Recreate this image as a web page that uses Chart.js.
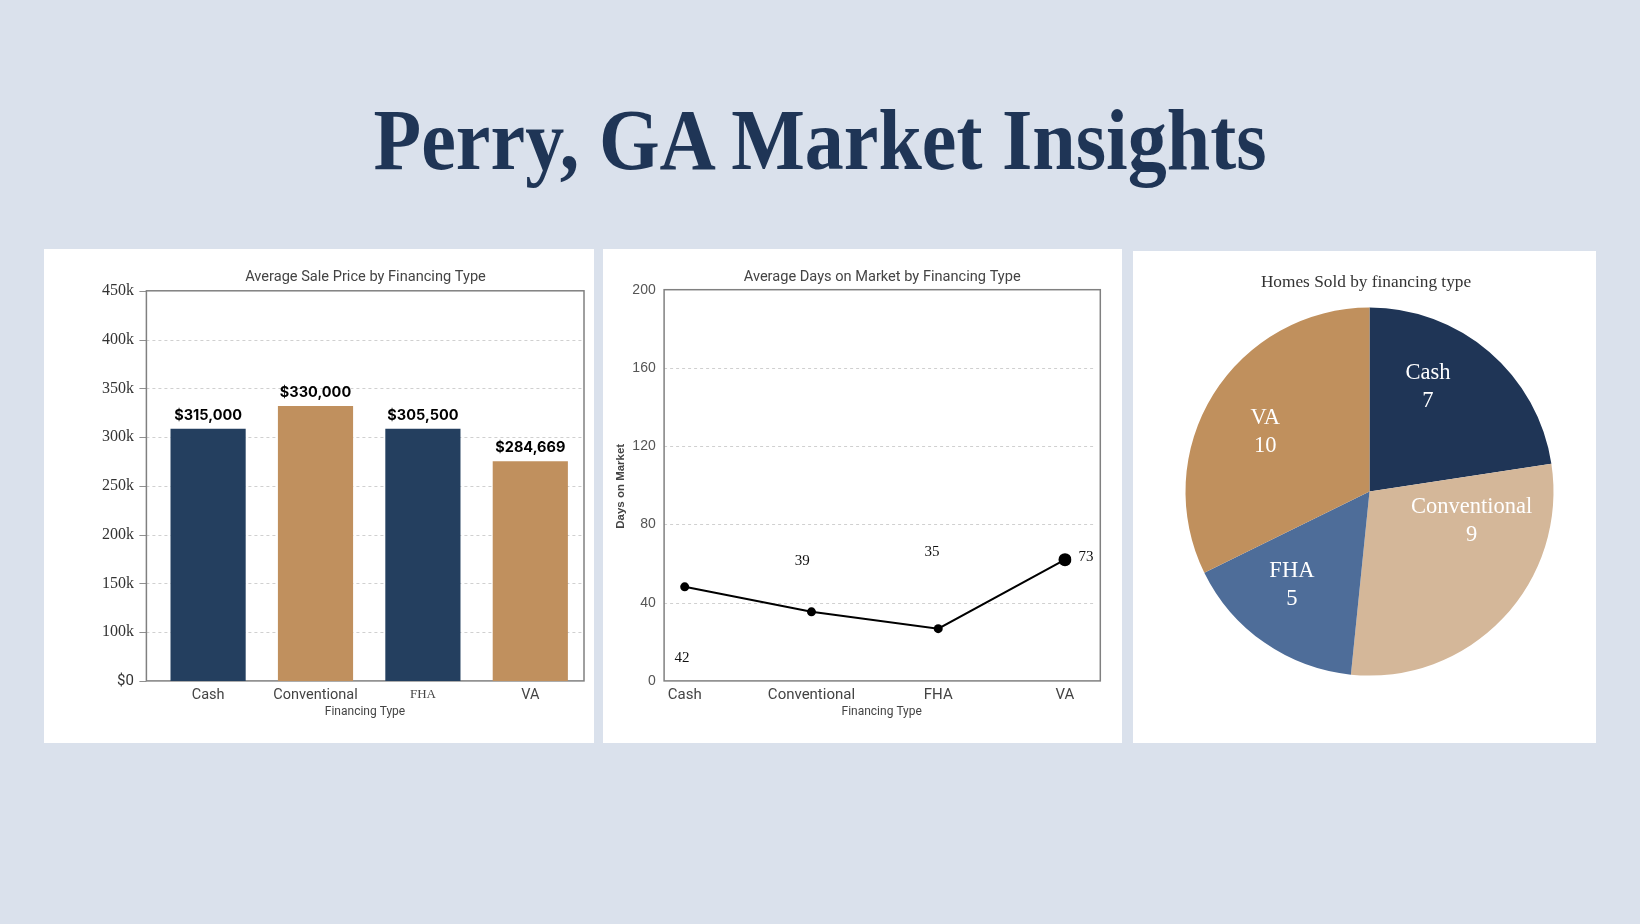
<!DOCTYPE html>
<html>
<head>
<meta charset="utf-8">
<script src="https://cdn.jsdelivr.net/npm/chart.js@4.4.1/dist/chart.umd.min.js"></script>
<style>
html,body{margin:0;padding:0;}
body{width:1640px;height:924px;background:#dae1ec;position:relative;overflow:hidden;}
#title{position:absolute;left:0;width:1640px;top:97px;text-align:center;font-family:"Liberation Serif",serif;font-weight:bold;font-size:86px;line-height:86px;color:#1f3556;white-space:nowrap;}
#title span{display:inline-block;transform-origin:50% 50%;}
.panel{position:absolute;background:#fff;}
.panel canvas{display:block;}
</style>
</head>
<body>
<div id="title"><span id="tt">Perry, GA Market Insights</span></div>
<div class="panel" style="left:44px;top:249px;width:550px;height:494px"><canvas id="c1" width="550" height="494"></canvas></div>
<div class="panel" style="left:603px;top:249px;width:519px;height:494px"><canvas id="c2" width="519" height="494"></canvas></div>
<div class="panel" style="left:1133px;top:251px;width:463px;height:492px"><canvas id="c3" width="463" height="492"></canvas></div>
<script>
// ---------- DATA ----------
const categories = ['Cash', 'Conventional', 'FHA', 'VA'];
const avgSalePrice = [308500, 332000, 308500, 275300];
const salePriceLabels = ['$315,000', '$330,000', '$305,500', '$284,669'];
// the source axis is drawn with its bottom tick labelled "$0" one step below 100k
const priceAxisMin = 50000;
const priceAxisMax = 450000;
const priceAxisStep = 50000;
const priceTickLabels = ['$0', '100k', '150k', '200k', '250k', '300k', '350k', '400k', '450k'];

const avgDaysOnMarket = [48.1, 35.3, 26.7, 62.0];
const daysLabels = ['42', '39', '35', '73'];
const daysAxisMax = 200;
const daysAxisStep = 40;

const homesSold = [7, 9, 5, 10];

const titleMain = 'Perry, GA Market Insights';
const titlePrice = 'Average Sale Price by Financing Type';
const titleDays = 'Average Days on Market by Financing Type';
const titleHomes = 'Homes Sold by financing type';
const xAxisTitle = 'Financing Type';
const yAxisTitleDays = 'Days on Market';

// ---------- TITLE ----------
const tt = document.getElementById('tt');
tt.textContent = titleMain;
const tw = tt.getBoundingClientRect().width;
tt.style.transform = 'scaleX(' + (893 / tw) + ')';

// ---------- HELPERS ----------
function framePlugin(opt) {
  return {
    id: 'frame_' + opt.key,
    beforeDatasetsDraw(chart) {
      const ctx = chart.ctx, a = chart.chartArea, ys = chart.scales.y;
      const L = a.left - opt.fl, R = a.right + opt.fr;
      ctx.save();
      ctx.strokeStyle = '#d0d0d0';
      ctx.lineWidth = 1;
      ctx.setLineDash([3, 3]);
      ys.ticks.forEach(t => {
        if (t.value === ys.min || t.value === ys.max) return;
        const y = Math.round(ys.getPixelForValue(t.value)) + 0.5;
        ctx.beginPath(); ctx.moveTo(L, y); ctx.lineTo(R - opt.gridEnd, y); ctx.stroke();
      });
      ctx.setLineDash([]);
      if (opt.tickLen) {
        ctx.strokeStyle = '#909090';
        ys.ticks.forEach(t => {
          const y = Math.round(ys.getPixelForValue(t.value)) + 0.5;
          ctx.beginPath(); ctx.moveTo(L - opt.tickLen, y); ctx.lineTo(L, y); ctx.stroke();
        });
      }
      ctx.strokeStyle = '#808080';
      ctx.lineWidth = 1.5;
      ctx.strokeRect(L, a.top, R - L, a.bottom - a.top);
      ctx.restore();
    },
    afterDraw(chart) {
      const ctx = chart.ctx;
      ctx.save();
      ctx.textAlign = 'center';
      ctx.textBaseline = 'middle';
      ctx.fillStyle = '#444';
      ctx.font = '14.6px Roboto';
      ctx.fillText(opt.title, opt.tx, opt.ty);
      ctx.font = '12px Roboto';
      ctx.fillText(xAxisTitle, opt.ax, opt.ay);
      if (opt.yTitle) {
        ctx.translate(opt.yx, opt.yy);
        ctx.rotate(-Math.PI / 2);
        ctx.font = 'bold 11.5px "Liberation Sans"';
        ctx.fillStyle = '#444';
        ctx.fillText(opt.yTitle, 0, 0);
      }
      ctx.restore();
    }
  };
}

// ---------- BAR CHART ----------
new Chart(document.getElementById('c1'), {
  type: 'bar',
  data: {
    labels: categories,
    datasets: [{
      data: avgSalePrice,
      backgroundColor: ['#243f5f', '#c0905e', '#243f5f', '#c0905e'],
      categoryPercentage: 1,
      barPercentage: 0.7
    }]
  },
  options: {
    responsive: false,
    animation: false,
    layout: { padding: { top: 41.8, right: 10, left: 0, bottom: 0 } },
    plugins: { legend: { display: false }, tooltip: { enabled: false } },
    scales: {
      x: {
        grid: { display: false, drawTicks: false }, border: { display: false },
        ticks: {
          padding: 5.5, color: '#444', autoSkip: false, maxRotation: 0,
          font: c => c.index === 2 ? { family: 'Liberation Serif', size: 13 } : { family: 'Roboto', size: 14.5 }
        },
        afterFit(s) { s.height = 62.1; }
      },
      y: {
        min: priceAxisMin, max: priceAxisMax,
        grid: { display: false, drawTicks: false }, border: { display: false },
        ticks: {
          stepSize: priceAxisStep, padding: 20.5, color: '#333',
          callback: (v, i) => priceTickLabels[i],
          font: c => (c.index === 0) ? { family: 'Roboto', size: 15 } : { family: 'Liberation Serif', size: 16 }
        },
        afterFit(s) { s.width = 110.4; }
      }
    }
  },
  plugins: [
    framePlugin({ key: 'bar', fl: 8, fr: 0, gridEnd: 0, tickLen: 7, title: titlePrice, tx: 321.5, ty: 28.2, ax: 321, ay: 463.3 }),
    {
      id: 'barLabels',
      afterDatasetsDraw(chart) {
        const ctx = chart.ctx;
        ctx.save();
        ctx.font = 'bold 14.5px Inter';
        ctx.fillStyle = '#000';
        ctx.textAlign = 'center';
        ctx.textBaseline = 'middle';
        chart.getDatasetMeta(0).data.forEach((bar, i) => {
          ctx.fillText(salePriceLabels[i], bar.x, bar.y - 13.5);
        });
        ctx.restore();
      }
    }
  ]
});

// ---------- LINE CHART ----------
const dayLabelNudge = [[-2.8, 71.1], [-9.3, -51.2], [-6.3, -76.4], [21, -2.1]];
new Chart(document.getElementById('c2'), {
  type: 'line',
  data: {
    labels: categories,
    datasets: [{
      data: avgDaysOnMarket,
      borderColor: '#000',
      borderWidth: 2,
      pointRadius: [4.5, 4.5, 4.5, 6.5],
      pointBackgroundColor: '#000',
      pointBorderWidth: 0,
      tension: 0,
      fill: false
    }]
  },
  options: {
    responsive: false,
    animation: false,
    layout: { padding: { top: 40.7, right: 57, left: 0, bottom: 0 } },
    plugins: { legend: { display: false }, tooltip: { enabled: false } },
    scales: {
      x: {
        grid: { display: false, drawTicks: false }, border: { display: false },
        ticks: { padding: 5.5, color: '#444', autoSkip: false, maxRotation: 0, font: { family: 'Roboto', size: 15 } },
        afterFit(s) { s.height = 62.1; }
      },
      y: {
        min: 0, max: daysAxisMax,
        grid: { display: false, drawTicks: false }, border: { display: false },
        ticks: { stepSize: daysAxisStep, padding: 29, color: '#555', font: { family: 'Liberation Sans', size: 14 } },
        afterFit(s) { s.width = 81.7; }
      }
    }
  },
  plugins: [
    framePlugin({ key: 'line', fl: 20.6, fr: 35.3, gridEnd: 6, tickLen: 0, title: titleDays, tx: 279.2, ty: 28.2, ax: 278.7, ay: 463.3, yTitle: yAxisTitleDays, yx: 18.3, yy: 237.3 }),
    {
      id: 'lineLabels',
      afterDatasetsDraw(chart) {
        const ctx = chart.ctx;
        ctx.save();
        ctx.font = '15px "Liberation Serif"';
        ctx.fillStyle = '#111';
        ctx.textAlign = 'center';
        ctx.textBaseline = 'middle';
        chart.getDatasetMeta(0).data.forEach((pt, i) => {
          ctx.fillText(daysLabels[i], pt.x + dayLabelNudge[i][0], pt.y + dayLabelNudge[i][1]);
        });
        ctx.restore();
      }
    }
  ]
});

// ---------- PIE CHART ----------
const pieLabelNudge = [[-19.5, -13.5], [15.5, -52.9], [-9.3, -4.2], [-2.7, 4.1]];
new Chart(document.getElementById('c3'), {
  type: 'pie',
  data: {
    labels: categories,
    datasets: [{
      data: homesSold,
      backgroundColor: ['#1f3556', '#d4b799', '#4e6d99', '#c0905d'],
      borderWidth: 0
    }]
  },
  options: {
    responsive: false,
    animation: false,
    layout: { padding: { top: 56.6, bottom: 67.4, left: 52.5, right: 42.5 } },
    plugins: { legend: { display: false }, tooltip: { enabled: false } }
  },
  plugins: [{
    id: 'pieLabels',
    afterDatasetsDraw(chart) {
      const ctx = chart.ctx;
      ctx.save();
      ctx.textAlign = 'center';
      ctx.textBaseline = 'middle';
      ctx.fillStyle = '#333';
      ctx.font = '17.3px "Liberation Serif"';
      ctx.fillText(titleHomes, 233, 31);
      ctx.fillStyle = '#fff';
      ctx.font = '22.5px "Liberation Serif"';
      chart.getDatasetMeta(0).data.forEach((arc, i) => {
        const mid = (arc.startAngle + arc.endAngle) / 2;
        const r = arc.outerRadius * 0.65;
        const x = arc.x + Math.cos(mid) * r + pieLabelNudge[i][0];
        const y = arc.y + Math.sin(mid) * r + pieLabelNudge[i][1];
        ctx.fillText(categories[i], x, y - 14);
        ctx.fillText(String(homesSold[i]), x, y + 14);
      });
      ctx.restore();
    }
  }]
});
</script>
</body>
</html>
